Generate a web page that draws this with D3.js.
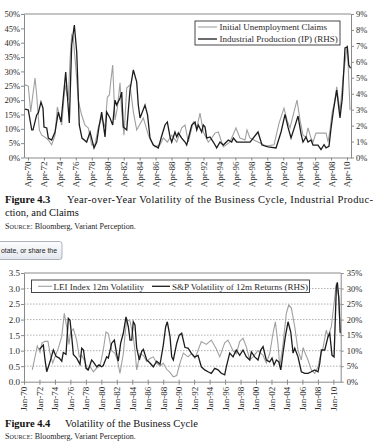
<!DOCTYPE html>
<html><head><meta charset="utf-8">
<script src="https://cdn.jsdelivr.net/npm/d3@7"></script>
<style>body{margin:0;background:#fff}svg{display:block}</style>
</head><body><svg id="c" width="378" height="447"></svg>
<script>
// ---------- Figure 4.3 data ----------
const claimsDates = [1969.88,1970.29,1970.59,1971.13,1971.34,1971.67,1971.97,1972.38,1972.80,1973.22,
1973.64,1973.93,1974.26,1974.48,1974.89,1975.30,1975.52,1975.73,1975.93,1976.27,
1976.56,1976.77,1976.98,1977.40,1977.81,1978.24,1978.65,1979.07,1979.49,1979.91,
1980.20,1980.45,1980.62,1980.87,1981.16,1981.45,1981.79,1982.00,1982.29,1982.63,
1983.04,1983.46,1983.88,1984.71,1985.34,1985.76,1986.18,1986.80,1987.22,1987.72,
1988.27,1988.90,1989.52,1989.94,1990.35,1990.98,1991.41,1991.82,1992.23,1992.86,
1993.29,1993.70,1994.11,1994.74,1995.58,1996.33,1996.83,1997.46,1997.71,
1998.09,1999.09,2000.09,2001.10,2001.73,2002.35,2002.73,2003.10,2003.61,2003.98,
2004.36,2004.73,2005.11,2005.36,2005.73,2005.99,2006.36,2007.62,2007.87,2008.12,
2008.37,2008.62,2008.96,2009.37,2009.79,2010.29,2010.63];
const claimsValues = [25.3,24.9,15.9,27.7,21.8,9.6,7.8,7.1,6.1,4.4,
7.8,17.6,13.8,11.3,25.3,20.0,34,42.7,41.6,30.5,
20,17.2,14.8,11.3,10.3,4.4,4.4,10.6,13.8,10.6,
21,21.8,26.3,32.2,13.1,17.2,26,15.9,7.8,24.2,
25.3,15.9,9.6,13.8,7.8,5.4,3.7,4.4,6.8,5.4,
7.8,5.4,10.3,11.3,5.4,12.4,10.3,15.5,8.9,5.4,
6.8,8.5,8.9,3.7,5.4,10.3,6.8,6.1,9.6,
6.8,5.4,4.0,4.4,12,17.2,13,10.3,16,20,
13,7.8,7.1,10.3,6.8,5.4,8.5,8.5,5.4,9.6,
15.5,18.3,24.6,15.9,28.7,39.2,16.5];
const ipDates = [1969.88,1970.29,1970.72,1970.88,1971.34,1971.54,1971.88,1972.13,1972.26,1972.60,
1972.80,1973.22,1973.64,1974.05,1974.39,1974.98,1975.30,1975.43,1975.73,1976.06,
1976.36,1976.68,1977.02,1977.61,1978.03,1978.28,1978.53,1978.87,1979.15,1979.49,
1979.91,1980.12,1980.53,1980.87,1981.16,1981.37,1981.79,1982.00,1982.20,1982.63,
1983.04,1983.46,1983.88,1984.08,1984.30,1984.92,1985.24,1985.55,1985.96,1986.59,
1987.05,1987.43,1987.72,1988.06,1988.27,1988.68,1988.90,1989.10,1989.52,1989.94,
1990.15,1990.56,1990.78,1991.19,1991.41,1991.61,1992.03,1992.23,1992.45,1992.66,
1993.07,1993.49,1993.91,1994.33,1994.74,1995.37,1995.79,1996.00,1996.42,1997.25,
1997.68,1998.09,
1999.09,1999.59,2000.35,2001.35,2001.98,2002.48,2002.85,2003.23,2003.73,2004.11,
2004.48,2004.73,2005.11,2005.36,2005.73,2005.99,2006.61,2006.99,2007.37,2007.62,
2007.99,2008.24,2008.56,2008.96,2009.37,2009.66,2010.00,2010.29,2010.47,2010.69];
const ipValues = [3.04,2.98,1.73,1.73,2.67,2.79,3.48,3.1,1.91,1.85,
1.22,1.1,1.6,2.85,2.23,5.36,3.1,2.16,7.06,8.31,
6.62,2.04,1.22,0.97,1.6,1.1,0.6,0.97,1.91,2.85,
1.29,2.85,2.48,2.04,3.6,3.29,3.73,4.1,1.91,1.73,
4.23,5.49,4.74,3.29,2.48,3.29,2.67,1.22,0.78,0.6,
1.41,2.04,2.23,1.29,0.97,1.6,1.29,1.54,1.22,0.97,
0.78,1.6,2.04,2.23,1.73,2.04,1.6,2.04,1.91,1.22,
1.29,0.97,0.6,0.97,0.78,1.1,0.97,1.22,0.97,0.97,
0.97,0.97,
1.6,0.78,0.66,0.6,1.6,2.7,1.9,1.22,2.0,2.6,
1.5,0.97,1.29,0.97,1.1,0.78,0.78,0.5,0.8,0.6,
0.7,1.8,3.0,4.23,2.48,3.73,6.87,6.93,5.8,5.6];
const tickYears1 = [1970,1972,1974,1976,1978,1980,1982,1984,1986,1988,1990,1992,1994,1996,1998,2000,2002,2004,2006,2008,2010];
const tickLabels1 = ["Apr-70","Apr-72","Apr-74","Apr-76","Apr-78","Apr-80","Apr-82","Apr-84","Apr-86","Apr-88","Apr-90","Apr-92","Apr-94","Apr-96","Apr-98","Apr-00","Apr-02","Apr-04","Apr-06","Apr-08","Apr-10"];
const leftTicks1 = [0,5,10,15,20,25,30,35,40,45,50];
const rightTicks1 = [0,1,2,3,4,5,6,7,8,9];
const legend1 = ["Initial Unemployment Claims","Industrial Production (IP) (RHS)"];

// ---------- Figure 4.4 data ----------
const leiDates = [1971.07,1971.72,1972.07,1972.33,1972.72,1973.10,1973.36,1973.71,1974.01,1974.44,
1974.88,1975.21,1975.52,1975.82,1976.04,1976.38,1976.81,1977.15,1977.46,1977.89,
1978.19,1978.53,1978.96,1979.40,1979.83,1980.25,1980.60,1980.90,1981.34,1981.77,
1982.07,1982.41,1982.84,1983.06,1983.28,1983.71,1984.13,1984.35,1984.57,1985.00,
1985.43,1985.87,1986.29,1986.72,1987.16,1987.59,1988.01,1988.45,1988.88,1989.31,
1989.75,1990.17,1990.60,1991.21,1991.63,1992.11,1992.93,1993.57,1994.22,1994.87,
1995.31,1995.95,1996.38,1997.03,1997.45,1997.89,1998.32,1998.75,1999.19,1999.61,
2000.26,2000.91,2001.33,2001.77,2002.20,2002.50,2002.85,2003.07,2003.49,2003.92,
2004.23,2004.57,2005.01,2005.43,2005.86,2006.08,2006.30,2006.73,2007.15,2007.59,
2008.02,2008.24,2008.67,2009.09,2009.31,2009.74,2010.39,2010.70,2010.86];
const leiValues = [0.38,1.15,0.95,1.25,1.3,1.3,0.92,0.6,0.8,1.08,
1.45,2.2,1.77,1.2,1.6,1.7,1.34,0.8,0.85,0.64,
0.38,0.5,0.32,0.44,0.5,1.02,1.6,1.55,1.0,0.91,
0.7,0.27,0.9,1.5,2.0,1.95,1.45,1.0,0.38,0.9,
0.85,0.65,0.75,0.8,0.6,0.5,0.6,0.4,0.3,0.16,
0.2,0.6,0.92,0.8,0.9,0.75,1.29,1.2,1.34,1.05,
0.8,1.25,1.34,1.0,0.9,1.29,1.4,1.12,0.7,0.8,
1.0,0.85,0.6,0.9,1.56,1.93,1.2,0.48,1.2,2.2,
2.47,2.37,1.77,1.0,0.7,1.1,0.95,0.7,0.38,0.27,
0.48,0.75,1.1,1.66,1.45,1.77,3.17,2.74,1.6];
const spDates = [1971.98,1972.50,1972.72,1972.94,1973.36,1973.79,1974.14,1974.56,1974.88,1975.08,
1975.43,1975.73,1975.95,1976.17,1976.38,1976.81,1977.24,1977.46,1977.69,1978.02,
1978.31,1978.75,1978.96,1979.40,1979.70,1980.05,1980.25,1980.69,1980.90,1981.34,
1981.68,1981.99,1982.19,1982.50,1982.84,1983.19,1983.49,1983.71,1983.93,1984.13,
1984.35,1984.57,1984.91,1985.22,1985.43,1985.87,1986.29,1986.72,1987.16,1987.59,
1988.01,1988.32,1988.53,1988.88,1989.10,1989.31,1989.75,1990.08,1990.39,1990.82,
1991.21,1991.63,1992.07,1992.50,1992.93,1993.37,1993.79,1994.22,1994.66,1995.09,
1995.51,1995.95,1996.16,1996.60,1997.03,1997.45,1997.89,1998.32,1998.75,1999.19,
1999.40,1999.83,2000.26,2000.61,2000.91,2001.33,2001.77,2002.07,2002.33,2002.63,
2002.94,2003.20,2003.49,2003.79,2004.14,2004.49,2004.79,2005.01,2005.43,2005.86,
2006.30,2006.73,2007.15,2007.59,2008.02,2008.24,2008.45,2008.89,2009.31,2009.53,
2009.83,2010.09,2010.39,2010.52,2010.70,2010.90];
const spValues = [10.4,11.8,7.0,3.2,6.4,10.2,8.2,7.6,6.6,9.4,
8.8,20.4,19.8,14.5,8.8,7.6,5.6,10.8,10.2,4.3,
3.8,7.0,6.4,4.8,5.4,4.8,5.2,8.0,7.6,12.4,
13.4,8.8,6.6,12.4,15.6,20.9,17.7,13.4,13.4,19.3,
18.3,10.9,7.0,9.8,10.4,7.0,6.0,4.8,6.6,5.6,
11.8,17.7,19.3,14.5,8.0,7.0,12.4,15.0,15.6,11.0,
10.8,9.2,8.0,8.5,4.8,3.8,3.2,2.7,4.3,3.8,
2.7,2.2,4.8,9.2,8.0,10.2,8.5,10.2,8.0,7.0,
9.6,8.0,7.0,10.2,11.3,7.0,6.4,7.6,5.4,7.0,
6.4,3.8,9.2,14.5,19.3,16.0,9.2,10.8,8.0,3.2,
2.7,2.7,3.2,3.8,3.2,5.9,10.2,10.2,14.5,15.6,
8.5,8.0,30.6,32.0,27.0,15.6];
const tickYears2 = [1970,1972,1974,1976,1978,1980,1982,1984,1986,1988,1990,1992,1994,1996,1998,2000,2002,2004,2006,2008,2010];
const tickLabels2 = ["Jan-70","Jan-72","Jan-74","Jan-76","Jan-78","Jan-80","Jan-82","Jan-84","Jan-86","Jan-88","Jan-90","Jan-92","Jan-94","Jan-96","Jan-98","Jan-00","Jan-02","Jan-04","Jan-06","Jan-08","Jan-10"];
const leftTicks2 = [0,0.5,1.0,1.5,2.0,2.5,3.0,3.5];
const rightTicks2 = [0,5,10,15,20,25,30,35];
const legend2 = ["LEI Index 12m Volatility","S&P Volatility of 12m Returns (RHS)"];

// ---------- drawing ----------
const svg = d3.select("#c");
const SERIF = "'Liberation Serif','Times New Roman',serif";
const AX = "#8a8a8a", TXT = "#2a2a2a", LIGHT = "#a0a0a0", DARK = "#1c1c1c";

function styleAxis(g){
  g.select(".domain").attr("stroke", AX);
  g.selectAll(".tick line").attr("stroke", AX);
  g.selectAll("text").attr("fill", TXT).style("font-family", SERIF);
}
function zip(d, v){ return d.map((t,i)=>[t, v[i]]); }

// ===== Chart 1 =====
(function(){
  const L=24, R=351, T=14, B=157.5;
  const x = d3.scaleLinear().domain([1969.75, 2010.75]).range([L, R]);
  const yL = d3.scaleLinear().domain([0, 50]).range([B, T]);
  const yR = d3.scaleLinear().domain([0, 9]).range([B, T]);
  const g = svg.append("g");
  g.append("line").attr("x1",L).attr("x2",R).attr("y1",T).attr("y2",T).attr("stroke",AX);

  const line = (ys)=>d3.line().x(d=>x(d[0])).y(d=>ys(d[1]));
  g.append("path").datum(zip(claimsDates, claimsValues)).attr("d", line(yL))
    .attr("fill","none").attr("stroke",LIGHT).attr("stroke-width",1.1);
  g.append("path").datum(zip(ipDates, ipValues)).attr("d", line(yR))
    .attr("fill","none").attr("stroke",DARK).attr("stroke-width",1.3);

  const ax = g.append("g").attr("transform",`translate(${L},0)`)
    .call(d3.axisLeft(yL).tickValues(leftTicks1).tickSize(3).tickSizeOuter(0).tickFormat(d=>d+"%"));
  styleAxis(ax); ax.selectAll("text").style("font-size","8.5px").attr("x",-4);
  const ar = g.append("g").attr("transform",`translate(${R},0)`)
    .call(d3.axisRight(yR).tickValues(rightTicks1).tickSize(3).tickSizeOuter(0).tickFormat(d=>d+"%"));
  styleAxis(ar); ar.selectAll("text").style("font-size","8.5px").attr("x",5);
  const ab = g.append("g").attr("transform",`translate(0,${B})`)
    .call(d3.axisBottom(x).tickValues(tickYears1.map(t=>t+0.25)).tickSize(3).tickSizeOuter(0)
      .tickFormat((d,i)=>tickLabels1[i]));
  styleAxis(ab);
  ab.selectAll("text").style("font-size","9px").attr("transform","rotate(-90)")
    .attr("text-anchor","end").attr("x",-4).attr("y",0).attr("dy","0.33em");

  // legend
  const lg = g.append("g");
  lg.append("rect").attr("x",195).attr("y",21).attr("width",145).attr("height",24)
    .attr("fill","#fff").attr("stroke","#333").attr("stroke-width",0.9);
  [[LIGHT,1.1,27],[DARK,1.3,39]].forEach((s,i)=>{
    lg.append("line").attr("x1",198).attr("x2",217).attr("y1",s[2]).attr("y2",s[2])
      .attr("stroke",s[0]).attr("stroke-width",s[1]);
    lg.append("text").attr("x",219.5).attr("y",s[2]+3).text(legend1[i])
      .style("font-family",SERIF).style("font-size","9px").attr("fill",TXT);
  });
})();

// ===== Chart 2 =====
(function(){
  const L=24, R=340.7, T=273, B=381.7;
  const x = d3.scaleLinear().domain([1970, 2010.95]).range([L, R]);
  const yL = d3.scaleLinear().domain([0, 3.5]).range([B, T]);
  const yR = d3.scaleLinear().domain([0, 35]).range([B, T]);
  const g = svg.append("g");
  g.selectAll("line.grid").data(leftTicks2.filter(v=>v>0 && v<3.5)).enter().append("line")
    .attr("x1",L).attr("x2",R).attr("y1",d=>yL(d)).attr("y2",d=>yL(d))
    .attr("stroke","#9a9a9a").attr("stroke-width",0.8).attr("stroke-dasharray","1.5,1.5");
  g.append("line").attr("x1",L).attr("x2",R).attr("y1",T).attr("y2",T).attr("stroke",AX);

  const line = (ys)=>d3.line().x(d=>x(d[0])).y(d=>ys(d[1]));
  g.append("path").datum(zip(leiDates, leiValues)).attr("d", line(yL))
    .attr("fill","none").attr("stroke",LIGHT).attr("stroke-width",1.1);
  g.append("path").datum(zip(spDates, spValues)).attr("d", line(yR))
    .attr("fill","none").attr("stroke",DARK).attr("stroke-width",1.3);

  const ax = g.append("g").attr("transform",`translate(${L},0)`)
    .call(d3.axisLeft(yL).tickValues(leftTicks2).tickSize(3).tickSizeOuter(0).tickFormat(d3.format(".1f")));
  styleAxis(ax); ax.selectAll("text").style("font-size","9px").attr("x",-4);
  const ar = g.append("g").attr("transform",`translate(${R},0)`)
    .call(d3.axisRight(yR).tickValues(rightTicks2).tickSize(3).tickSizeOuter(0).tickFormat(d=>d+"%"));
  styleAxis(ar); ar.selectAll("text").style("font-size","8.5px").attr("x",6);
  const ab = g.append("g").attr("transform",`translate(0,${B})`)
    .call(d3.axisBottom(x).tickValues(tickYears2).tickSize(3).tickSizeOuter(0)
      .tickFormat((d,i)=>tickLabels2[i]));
  styleAxis(ab);
  ab.selectAll(".tick line").attr("y1",-2);
  ab.selectAll("text").style("font-size","9px").attr("transform","rotate(-90)")
    .attr("text-anchor","end").attr("x",-5).attr("y",0).attr("dy","0.33em");

  const lg = g.append("g");
  lg.append("rect").attr("x",31.5).attr("y",280).attr("width",278).attr("height",12.5)
    .attr("fill","#fff").attr("stroke","#333").attr("stroke-width",0.9);
  [[LIGHT,1.1,38,52,53.5],[DARK,1.3,152,170,172]].forEach((s,i)=>{
    lg.append("line").attr("x1",s[2]).attr("x2",s[3]).attr("y1",286.3).attr("y2",286.3)
      .attr("stroke",s[0]).attr("stroke-width",s[1]);
    lg.append("text").attr("x",s[4]).attr("y",289.5).text(legend2[i])
      .style("font-family",SERIF).style("font-size","9px").attr("fill",TXT);
  });
})();

// ===== captions =====
function caption(num, title, y, titleX, titleLen){
  const t = svg.append("text").attr("y",y).style("font-family",SERIF).style("font-size","10.5px").attr("fill","#111");
  t.append("tspan").attr("x",5).style("font-weight","bold").text(num);
  const s = t.append("tspan").attr("x",titleX).text(title);
  if (titleLen) s.attr("textLength",titleLen).attr("lengthAdjust","spacing");
}
caption("Figure 4.3","Year-over-Year Volatility of the Business Cycle, Industrial Produc-",203,67,306);
svg.append("text").attr("x",5).attr("y",215.5).text("ction, and Claims")
  .style("font-family",SERIF).style("font-size","10.5px").attr("fill","#111");
function source(y){
  const t = svg.append("text").attr("x",5).attr("y",y).style("font-family",SERIF).style("font-size","8px").attr("fill","#222");
  t.append("tspan").text("S");
  t.append("tspan").style("font-size","6.2px").text("OURCE");
  t.append("tspan").text(": Bloomberg, Variant Perception.");
}
source(229);
caption("Figure 4.4","Volatility of the Business Cycle",427,65,null);
source(439);

// ===== overlay tooltip fragment from the screenshot =====
const defs = svg.append("defs");
const gr = defs.append("linearGradient").attr("id","tipg").attr("x1",0).attr("x2",0).attr("y1",0).attr("y2",1);
gr.append("stop").attr("offset","0%").attr("stop-color","#fdfdfe");
gr.append("stop").attr("offset","100%").attr("stop-color","#e3e7ee");
svg.append("rect").attr("x",-4).attr("y",241.5).attr("width",66).attr("height",18).attr("rx",2.5)
  .attr("fill","url(#tipg)").attr("stroke","#97a0ad").attr("stroke-width",0.8);
svg.append("text").attr("x",1).attr("y",253).text("otate, or share the")
  .attr("textLength",56).attr("lengthAdjust","spacingAndGlyphs")
  .style("font-family","'Liberation Sans',Arial,sans-serif").style("font-size","8px").attr("fill","#222");
</script></body></html>
